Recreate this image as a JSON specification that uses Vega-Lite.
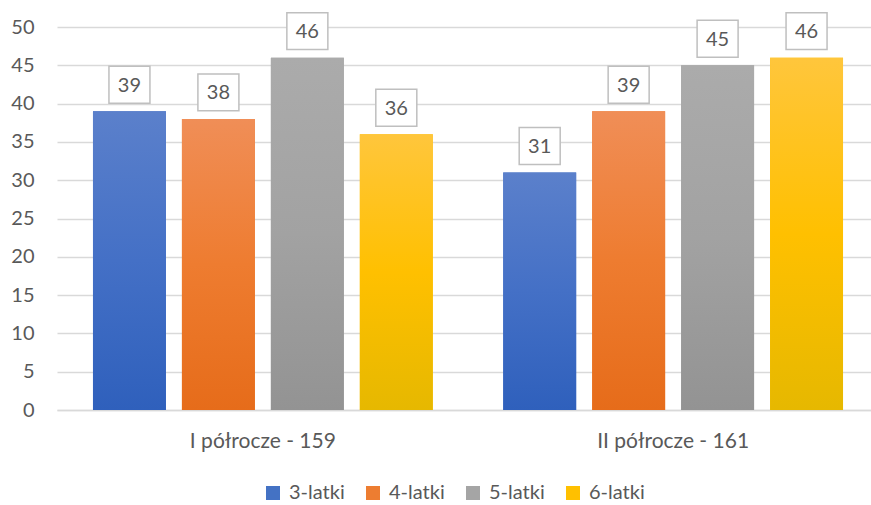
{
  "$schema": "https://vega.github.io/schema/vega-lite/v6.json",
  "width": 822,
  "height": 383,
  "autosize": {"type": "none"},
  "padding": {"left": 57, "top": 27, "right": 0, "bottom": 95},
  "background": "white",
  "config": {
    "font": "Lato",
    "view": {"stroke": null},
    "axis": {"labelFont": "Lato", "labelFontSize": 20, "labelColor": "#595959", "ticks": false, "title": null},
    "legend": {"labelFont": "Lato", "labelFontSize": 20, "labelColor": "#595959"}
  },
  "data": {
    "values": [
      {"group": "I półrocze - 159", "series": "3-latki", "value": 39},
      {"group": "I półrocze - 159", "series": "4-latki", "value": 38},
      {"group": "I półrocze - 159", "series": "5-latki", "value": 46},
      {"group": "I półrocze - 159", "series": "6-latki", "value": 36},
      {"group": "II półrocze - 161", "series": "3-latki", "value": 31},
      {"group": "II półrocze - 161", "series": "4-latki", "value": 39},
      {"group": "II półrocze - 161", "series": "5-latki", "value": 45},
      {"group": "II półrocze - 161", "series": "6-latki", "value": 46}
    ]
  },
  "encoding": {
    "x": {
      "field": "group", "type": "nominal", "sort": null,
      "scale": {"paddingInner": 0.1717, "paddingOuter": 0.0877},
      "axis": {"labelAngle": 0, "labelFontSize": 21, "domainColor": "#d9d9d9", "domainWidth": 1.5, "labelPadding": 20, "grid": false}
    },
    "xOffset": {"field": "series", "type": "nominal", "sort": null, "scale": {"paddingInner": 0.18, "paddingOuter": 0}},
    "y": {
      "field": "value", "type": "quantitative",
      "scale": {"domain": [0, 50], "nice": false},
      "axis": {"values": [0, 5, 10, 15, 20, 25, 30, 35, 40, 45, 50], "domain": false, "grid": true, "gridColor": "#d9d9d9", "gridWidth": 1.3, "labelPadding": 23}
    }
  },
  "layer": [
    {
      "mark": {"type": "bar"},
      "encoding": {
        "color": {
          "field": "series", "type": "nominal", "sort": null,
          "scale": {"domain": ["3-latki", "4-latki", "5-latki", "6-latki"], "range": ["#4472C4", "#ED7D31", "#A5A5A5", "#FFC000"]},
          "legend": {
            "title": null, "orient": "none", "legendX": 206, "legendY": 456, "direction": "horizontal",
            "symbolType": "square", "symbolSize": 196, "symbolStrokeWidth": 0, "columnPadding": 18, "labelOffset": 6, "padding": 0, "labelFontSize": 20
          }
        }
      }
    },
    {
      "mark": {"type": "bar"},
      "encoding": {
        "fill": {
          "condition": [
            {"test": "datum.series === '3-latki'", "value": {"gradient": "linear", "x1": 0, "y1": 0, "x2": 0, "y2": 1, "stops": [{"offset": 0, "color": "#5B80CB"}, {"offset": 0.5, "color": "#4470C6"}, {"offset": 1, "color": "#2F60BC"}]}},
            {"test": "datum.series === '4-latki'", "value": {"gradient": "linear", "x1": 0, "y1": 0, "x2": 0, "y2": 1, "stops": [{"offset": 0, "color": "#F08E57"}, {"offset": 0.5, "color": "#EE7C30"}, {"offset": 1, "color": "#E66C1A"}]}},
            {"test": "datum.series === '5-latki'", "value": {"gradient": "linear", "x1": 0, "y1": 0, "x2": 0, "y2": 1, "stops": [{"offset": 0, "color": "#ABABAB"}, {"offset": 0.5, "color": "#A2A2A2"}, {"offset": 1, "color": "#939393"}]}}
          ],
          "value": {"gradient": "linear", "x1": 0, "y1": 0, "x2": 0, "y2": 1, "stops": [{"offset": 0, "color": "#FFC63C"}, {"offset": 0.5, "color": "#FFC000"}, {"offset": 1, "color": "#E6B800"}]}
        }
      }
    },
    {
      "mark": {"type": "point", "shape": "M-1,-0.9H1V0.9H-1Z", "size": 1681, "filled": false, "fill": "white", "fillOpacity": 1, "stroke": "#bfbfbf", "strokeWidth": 1.5, "opacity": 1, "yOffset": -26.5}
    },
    {
      "mark": {"type": "text", "fontSize": 20, "color": "#595959", "baseline": "middle", "dy": -25.5, "font": "Lato"},
      "encoding": {"text": {"field": "value", "type": "quantitative"}}
    }
  ]
}
